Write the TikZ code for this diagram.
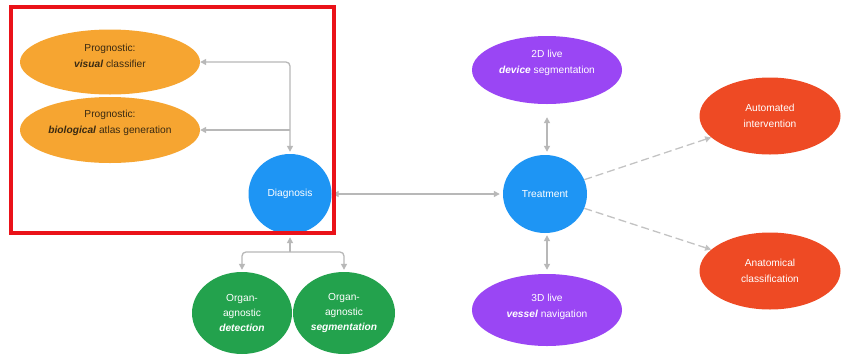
\documentclass[tikz,border=0pt]{standalone}
\usepackage{fontspec}
\setmainfont{Liberation Sans}
\usetikzlibrary{shapes.geometric,arrows.meta}
\definecolor{orangeN}{HTML}{F6A531}
\definecolor{blueN}{HTML}{1E95F4}
\definecolor{purpleN}{HTML}{9A46F4}
\definecolor{greenN}{HTML}{23A24D}
\definecolor{redN}{HTML}{EE4A24}
\definecolor{frameR}{HTML}{EA1219}
\definecolor{arrowG}{HTML}{B8B8B8}
\definecolor{darkT}{HTML}{3A2A12}
\tikzset{
  blob/.style={ellipse, inner sep=0pt, align=center, font=\fontsize{10.2}{16}\selectfont},
  txt/.style={inner sep=0pt, align=center, font=\fontsize{10.2}{16}\selectfont},
  orangeblob/.style={blob, fill=orangeN, text=darkT},
  blueblob/.style={blob, fill=blueN, text=white},
  purpleblob/.style={blob, fill=purpleN, text=white},
  greenblob/.style={blob, fill=greenN, text=white, font=\fontsize{10.2}{15}\selectfont},
  redblob/.style={blob, fill=redN, text=white},
  conn/.style={draw=arrowG, line width=1.3pt, rounded corners=4pt},
  tip/.style={-{Triangle[length=6pt,width=6pt,fill=arrowG]}},
  tips/.style={{Triangle[length=6pt,width=6pt,fill=arrowG]}-{Triangle[length=6pt,width=6pt,fill=arrowG]}},
  dashconn/.style={draw=arrowG!85, line width=1.3pt, dash pattern=on 8pt off 4pt}
}
\begin{document}
\begin{tikzpicture}[x=1pt,y=-1pt]
\useasboundingbox[fill=white] (0,0) rectangle (841,354);

\node[orangeblob, minimum width=180pt, minimum height=65pt] (vis) at (110,62) {};
\node[txt, text=darkT] (visT) at ([yshift=6pt]vis.center) {Prognostic:\\\textbf{\textit{visual}} classifier};
\node[orangeblob, minimum width=180pt, minimum height=66pt] (bio) at (110,130) {};
\node[txt, text=darkT] (bioT) at ([yshift=7pt]bio.center) {Prognostic:\\\textbf{\textit{biological}} atlas generation};
\node[blueblob, minimum width=83pt, minimum height=80pt] (diag) at (290,194) {Diagnosis};
\node[greenblob, minimum width=100pt, minimum height=82pt] (det) at (242,313) {Organ-\\agnostic\\\textbf{\textit{detection}}};
\node[greenblob, minimum width=102pt, minimum height=82pt] (seg) at (344,313) {Organ-\\agnostic\\\textbf{\textit{segmentation}}};
\node[blueblob, minimum width=84pt, minimum height=78pt] (treat) at (545,194) {Treatment};
\node[purpleblob, minimum width=150pt, minimum height=68pt] (dev) at (547,70) {};
\node[txt, text=white] (devT) at ([yshift=7pt]dev.center) {2D live\\\textbf{\textit{device}} segmentation};
\node[purpleblob, minimum width=150pt, minimum height=72pt] (ves) at (547,310) {};
\node[txt, text=white] (vesT) at ([yshift=3pt]ves.center) {3D live\\\textbf{\textit{vessel}} navigation};
\node[redblob, minimum width=141pt, minimum height=77pt] (auto) at (770,116) {Automated\\intervention};
\node[redblob, minimum width=141pt, minimum height=77pt] (anat) at (770,271) {Anatomical\\classification};

% Diagnosis to prognostic
\draw[conn, tips, shorten >=2pt] (vis.east) -| (diag.north);
\draw[conn, tip] (bio.east -| diag.north) -- (bio.east);

% Diagnosis to organ-agnostic
\coordinate (split) at (290,252);
\draw[conn, tip, shorten >=3pt] (split) -- (diag.south);
\draw[conn, tip, shorten >=2pt] (split) -| (det.north);
\draw[conn, tip, shorten >=2pt] (split) -| (seg.north);

% Diagnosis <-> Treatment
\draw[conn, tips, shorten <=1pt, shorten >=3pt] (diag.east) -- (treat.west);

% Treatment <-> purple
\draw[conn, tips] ([yshift=3pt]treat.north -| dev.south) -- ([yshift=-13pt]dev.south);
\draw[conn, tips] ([yshift=-2pt]treat.south -| ves.north) -- ([yshift=4pt]ves.north);

% Treatment to red (dashed)
\draw[dashconn, tip] (treat.20) -- (auto.200);
\draw[dashconn, tip] (treat.-20) -- (anat.160);

% red frame
\draw[frameR, line width=4pt] (11,7) rectangle (334,233);
\end{tikzpicture}
\end{document}
